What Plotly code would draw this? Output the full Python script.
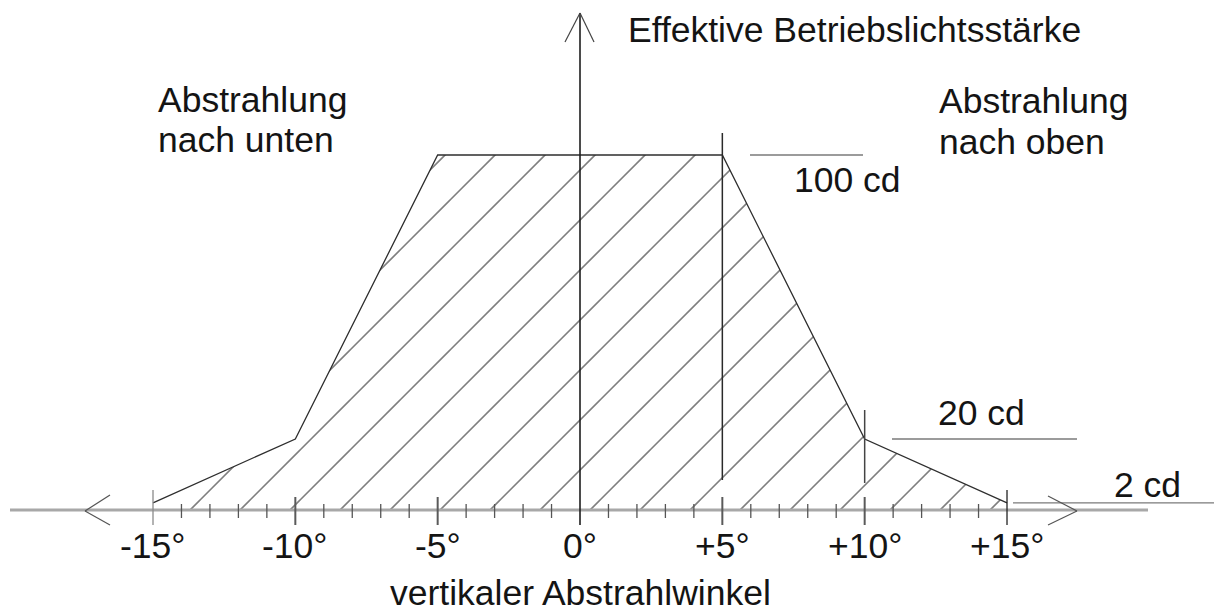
import plotly.graph_objects as go

# ---------------- data ----------------
angles = [-15, -10, -5, 5, 10, 15]          # vertical angle (deg)
intensity = [2, 20, 100, 100, 20, 2]        # effective intensity (cd)
levels = [100, 20, 2]
level_labels = ["100 cd", "20 cd", "2 cd"]
tick_values = [-15, -10, -5, 0, 5, 10, 15]
tick_labels = ["-15°", "-10°", "-5°", "0°", "+5°", "+10°", "+15°"]
minor_ticks = list(range(-15, 16))
y_title = "Effektive Betriebslichtsstärke"
x_title = "vertikaler Abstrahlwinkel"
region_left = ["Abstrahlung", "nach unten"]
region_right = ["Abstrahlung", "nach oben"]

# ---------------- geometry helpers (layout only) ----------------
W, H = 1214, 615
X0_PX, PX_PER_DEG = 580.0, 28.467
Y0_PX, PX_PER_CD = 510.0, 3.55


def dx(px):
    return (px - X0_PX) / PX_PER_DEG


def dy(py):
    return (Y0_PX - py) / PX_PER_CD


FONT = "Liberation Sans, Arial, sans-serif"
FS = 35.5
TXT = "#141414"

fig = go.Figure()

# hatched area under the curve
fig.add_trace(go.Scatter(
    x=[angles[0]] + angles + [angles[-1]],
    y=[0] + intensity + [0],
    mode="lines", fill="toself",
    line=dict(width=0, color="rgba(0,0,0,0)"),
    fillcolor="rgba(0,0,0,0)",
    fillpattern=dict(shape="/", size=50 / 2 ** 0.5, solidity=0.045,
                     fgcolor="#000000", bgcolor="rgba(255,255,255,0)"),
    hoverinfo="skip",
))

# outline of the curve
fig.add_trace(go.Scatter(
    x=angles, y=intensity, mode="lines",
    line=dict(color="#2e2e2e", width=1.3), hoverinfo="skip",
))

# reference level lines (100 / 20 / 2 cd)
level_spans = [(750, 863), (892, 1077), (1013, 1214)]
for lv, (a, b) in zip(levels, level_spans):
    fig.add_trace(go.Scatter(
        x=[dx(a), dx(b)], y=[lv, lv], mode="lines",
        line=dict(color="#7a7a7a", width=1.3), hoverinfo="skip",
    ))

shapes = []


def seg(x0, y0, x1, y1, color, width):
    shapes.append(dict(type="line", xref="x", yref="y", x0=x0, y0=y0,
                       x1=x1, y1=y1, line=dict(color=color, width=width)))


# x axis with arrows
seg(dx(10), 0, dx(1148), 0, "#a8a8a8", 3)
seg(dx(85), dy(511), dx(110), dy(495), "#555555", 1.2)
seg(dx(85), dy(511), dx(110), dy(525), "#555555", 1.2)
seg(dx(1077), dy(511), dx(1048), dy(496), "#555555", 1.2)
seg(dx(1077), dy(511), dx(1048), dy(525), "#555555", 1.2)

# y axis with arrow
seg(0, dy(13), 0, dy(525), "#1e1e1e", 1.6)
seg(0, dy(13), dx(565), dy(42), "#444444", 1.2)
seg(0, dy(13), dx(594), dy(42), "#444444", 1.2)

# ticks
for t in minor_ticks:
    if t == 0:
        continue
    if t in (-15, 15):
        col = "#8a8a8a" if t < 0 else "#222222"
        seg(t, dy(490), t, dy(525), col, 1.3)
    elif t % 5 == 0:
        seg(t, dy(497), t, dy(525), "#5a5a5a", 2)
    else:
        seg(t, dy(504), t, dy(518), "#555555", 1.3)

# vertical markers at +5 and +10
seg(angles[3], dy(133), angles[3], dy(480), "#2a2a2a", 1.5)
seg(angles[4], dy(410), angles[4], dy(483), "#444444", 1.5)

annotations = []


def text(s, px, baseline, anchor="left"):
    annotations.append(dict(
        text=s, x=dx(px), y=dy(baseline - 12.3), xref="x", yref="y",
        xanchor=anchor, yanchor="middle", showarrow=False,
        font=dict(family=FONT, size=FS, color=TXT), borderpad=0,
    ))


text(y_title, 627, 42)
text(region_left[0], 157, 112)
text(region_left[1], 157, 152)
text(region_right[0], 938, 113)
text(region_right[1], 938, 154)
label_pos = [(793, 192), (937, 425), (1113, 497)]
for lab, (px, bl) in zip(level_labels, label_pos):
    text(lab, px, bl)

for tv, tl in zip(tick_values, tick_labels):
    annotations.append(dict(
        text=tl, x=tv, y=dy(558 - 12.3), xref="x", yref="y",
        xanchor="center", yanchor="middle", showarrow=False,
        font=dict(family=FONT, size=FS, color=TXT), borderpad=0,
    ))

text(x_title, 580, 605, anchor="center")

fig.update_layout(
    width=W, height=H,
    margin=dict(l=0, r=0, t=0, b=0),
    paper_bgcolor="white", plot_bgcolor="white",
    showlegend=False,
    xaxis=dict(range=[dx(0), dx(W)], visible=False, fixedrange=True),
    yaxis=dict(range=[dy(H), dy(0)], visible=False, fixedrange=True),
    shapes=shapes, annotations=annotations,
)

fig.write_html(
    "out.html",
    config={"displayModeBar": False},
    post_script="document.body.style.margin='0';"
                "document.body.style.overflow='hidden';",
)
